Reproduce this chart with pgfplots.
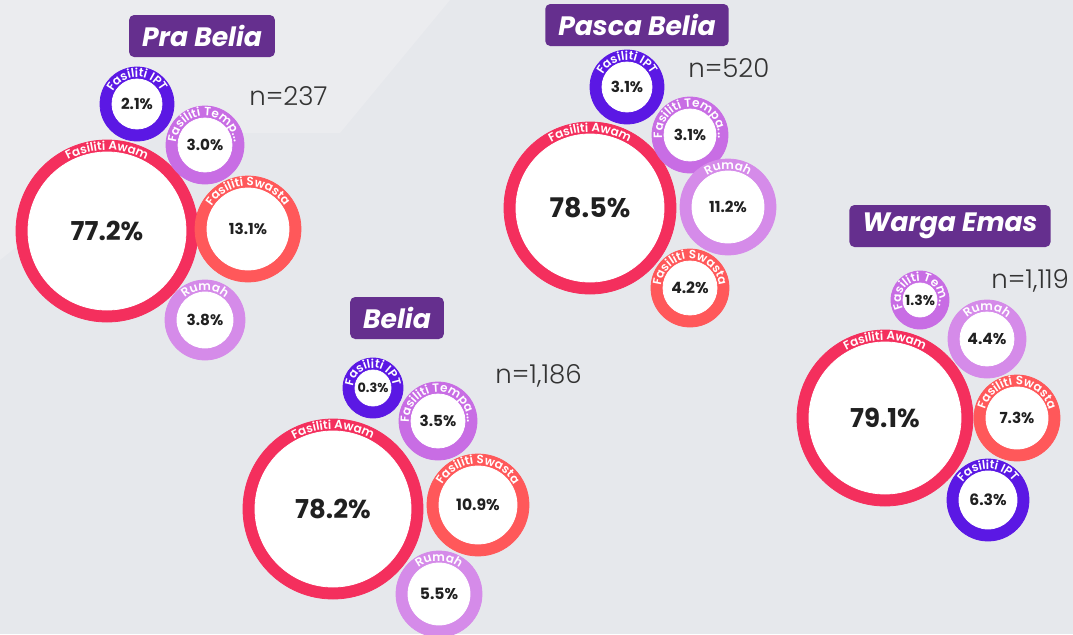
\documentclass[border=0pt]{standalone}
\usepackage{pgfplots}
\pgfplotsset{compat=1.18}
\usepackage{pgfplotstable}
\usetikzlibrary{decorations.text}
\usepackage{fontspec}
\setmainfont{Poppins}
\newfontfamily\popbi{Poppins Bold Italic}
\newfontfamily\popb{Poppins Bold}
\newfontfamily\popsb{Poppins SemiBold}
\newfontfamily\popl{Poppins Light}
\definecolor{awam}{HTML}{F42F5D}
\definecolor{ipt}{HTML}{5B18E4}
\definecolor{temp}{HTML}{C86DE4}
\definecolor{rumah}{HTML}{D58BE9}
\definecolor{swasta}{HTML}{FF585A}
\definecolor{titlebox}{HTML}{652F8E}
\definecolor{bg}{HTML}{E6E8EC}
\definecolor{bglight}{HTML}{EBECEF}
\definecolor{pcttext}{HTML}{202020}
\definecolor{ntext}{HTML}{333333}
\newcommand\labfont{\color{white}\popsb\fontsize{6pt}{6.2pt}\selectfont}

% columns: x (px from left), y (px from top), outer radius (px), percent, font size (pt)
\pgfplotstableread{
x y r pct fs
107 231 91 77.2 13
590 208 86 78.5 13.5
333 509 90 78.2 13
885 418 88 79.1 13
}\awamdata
\pgfplotstableread{
x y r pct fs
137 104 37 2.1 7.6
627 87 37 3.1 7.6
373 388 30 0.3 6.4
988 500 41 6.3 7.8
}\iptdata
\pgfplotstableread{
x y r pct fs
690 135 38 3.1 7.6
438 421 39 3.5 7.6
}\tempadata
\pgfplotstableread{
x y r pct fs
205 145 39 3.0 7.6
}\tempdata
\pgfplotstableread{
x y r pct fs
920 300 29 1.3 7
}\temdata
\pgfplotstableread{
x y r pct fs
205 320 40 3.8 7.6
728 207 48 11.2 7.6
439 594 43 5.5 7.8
987 339 39 4.4 7.8
}\rumahdata
\pgfplotstableread{
x y r pct fs
248 229 53 13.1 7.6
690 288 39 4.2 7.8
478 505 51 10.9 7.8
1017 418 43 7.3 7.6
}\swastadata

\pgfplotsset{
  bub/.style 2 args={
    only marks, scatter, mark=*, mark size=0pt,
    point meta=explicit symbolic,
    visualization depends on={\thisrow{r} \as \rr},
    visualization depends on={\thisrow{fs} \as \fs},
    scatter/@pre marker code/.code={%
      \fill[#1] (0,0) circle[radius=\rr*0.5pt];
      \fill[white] (0,0) circle[radius=(\rr-12)*0.5pt];
      \pgfmathsetmacro\rt{(\rr-10)*0.5}%
      \path[decorate, decoration={text along path, text align=center, text={|\labfont|#2}}] (200:\rt pt) arc[start angle=200, end angle=-20, radius=\rt pt];
      \node[text=pcttext, inner sep=0pt, font=\popb\fontsize{\fs pt}{\fs pt}\selectfont] at (0,0) {\pgfplotspointmeta\%};
    },
    scatter/@post marker code/.code={},
  },
}
\tikzset{
  tbox/.style={fill=titlebox, text=white, rounded corners=2.5pt, inner xsep=6.5pt, minimum height=21pt, font=\popbi\fontsize{13.3pt}{14pt}\selectfont},
  nlab/.style={anchor=west, text=ntext, inner sep=0pt, font=\popl\fontsize{13pt}{14pt}\selectfont},
}

\begin{document}
\begin{tikzpicture}
\begin{axis}[
  scale only axis, width=536.5pt, height=317pt,
  xmin=0, xmax=1073, ymin=0, ymax=634, y dir=reverse,
  hide axis, clip=true,
]
\fill[bg] (axis cs:0,0) rectangle (axis cs:1073,634);
\fill[bglight] (axis cs:0,0) -- (axis cs:450,0) -- (axis cs:340,133) -- (axis cs:160,133) -- (axis cs:0,260) -- cycle;
\addplot[bub={awam}{Fasiliti Awam}] table[x=x, y=y, meta=pct] {\awamdata};
\addplot[bub={ipt}{Fasiliti IPT}] table[x=x, y=y, meta=pct] {\iptdata};
\addplot[bub={temp}{Fasiliti Tempa...}] table[x=x, y=y, meta=pct] {\tempadata};
\addplot[bub={temp}{Fasiliti Temp...}] table[x=x, y=y, meta=pct] {\tempdata};
\addplot[bub={temp}{Fasiliti Tem...}] table[x=x, y=y, meta=pct] {\temdata};
\addplot[bub={rumah}{Rumah}] table[x=x, y=y, meta=pct] {\rumahdata};
\addplot[bub={swasta}{Fasiliti Swasta}] table[x=x, y=y, meta=pct] {\swastadata};
\node[tbox] at (axis cs:202,36) {Pra Belia};
\node[tbox] at (axis cs:637,25) {Pasca Belia};
\node[tbox] at (axis cs:397,318) {Belia};
\node[tbox] at (axis cs:950,226) {Warga Emas};
\node[nlab] at (axis cs:249,96) {n=237};
\node[nlab] at (axis cs:688,68) {n=520};
\node[nlab] at (axis cs:495,376) {n=1,186};
\node[nlab] at (axis cs:991,281) {n=1,119};
\end{axis}
\pgfresetboundingbox
\path (current axis.south west) rectangle (current axis.north east);
\end{tikzpicture}
\end{document}
